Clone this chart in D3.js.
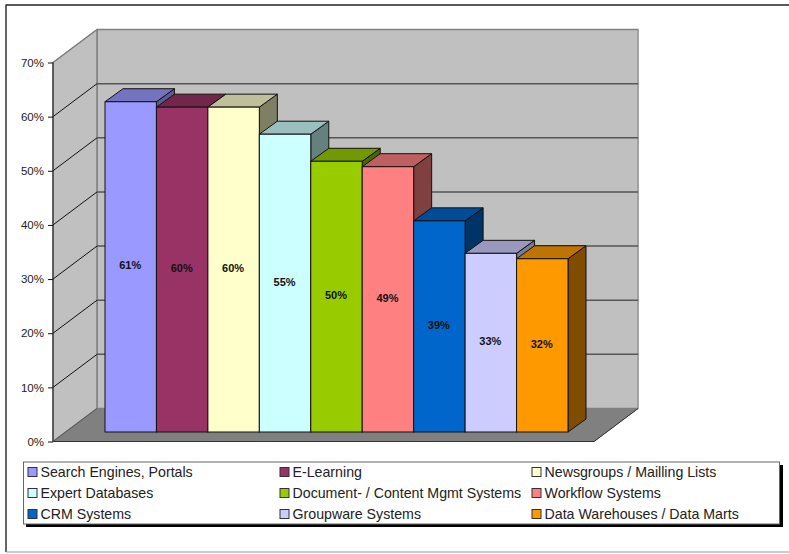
<!DOCTYPE html>
<html><head><meta charset="utf-8">
<script src="https://cdn.jsdelivr.net/npm/d3@7/dist/d3.min.js"></script>
<style>html,body{margin:0;padding:0;background:#fff}svg{display:block}text{font-family:"Liberation Sans",Arial,sans-serif}</style>
</head><body><svg id="c" width="789" height="554"></svg>
<script>
const categories=["Search Engines, Portals","E-Learning","Newsgroups / Mailling Lists","Expert Databases","Document- / Content Mgmt Systems","Workflow Systems","CRM Systems","Groupware Systems","Data Warehouses / Data Marts"];
const values=[61,60,60,55,50,49,39,33,32];
const labels=["61%","60%","60%","55%","50%","49%","39%","33%","32%"];
const colors=["#9999FF","#993366","#FFFFCC","#CCFFFF","#99CC00","#FF8080","#0066CC","#CCCCFF","#FF9900"];
const topColors=["#7373BF","#73264C","#BFBF99","#99BFBF","#739900","#BF6060","#004C99","#9999BF","#BF7300"];
const sideColors=["#5C5C99","#5C1F3D","#7F7F66","#667F7F","#4C6600","#804040","#003366","#7A7A99","#804D00"];
const ticks=[0,10,20,30,40,50,60,70];

const svg=d3.select("#c");
const y=d3.scaleLinear().domain([0,70]).range([441.5,62.5]);
const x=d3.scaleBand().domain(d3.range(values.length)).range([105,568]).padding(0);
const DX=44,DY=-33,bdx=18,bdy=-13,bar0=432;
const barH=v=>y(0)-y(v);
const poly=(pts,fill,stroke,sw)=>svg.append("polygon").attr("points",pts.map(p=>p.join(",")).join(" ")).attr("fill",fill).attr("stroke",stroke).attr("stroke-width",sw).attr("stroke-linejoin","round");
const line=(x1,y1,x2,y2,c,w)=>svg.append("line").attr("x1",x1).attr("y1",y1).attr("x2",x2).attr("y2",y2).attr("stroke",c).attr("stroke-width",w);

// frame
line(6,5,789,5,"#222",1.5);
line(6,4.5,6,552,"#333",1.5);
line(6,552,789,552,"#999",1.2);

const xL=53,xR=594,y0=y(0),y7=y(70);
// back wall, side wall, floor
poly([[xL+DX,y7+DY],[xR+DX,y7+DY],[xR+DX,y0+DY],[xL+DX,y0+DY]],"#C0C0C0","#808080",1.5);
poly([[xL,y0],[xL,y7],[xL+DX,y7+DY],[xL+DX,y0+DY]],"#C0C0C0","#808080",1.5);
poly([[xL,y0],[xR,y0],[xR+DX,y0+DY],[xL+DX,y0+DY]],"#808080","#808080",1);
line(xR+DX,y7+DY,xR+DX,y0+DY,"#A6A6A6",1.5);
line(xL,y0,xR,y0,"#333",1);
line(xR,y0,xR+DX,y0+DY,"#333",1);
// grid
ticks.forEach(t=>{
  if(t>0&&t<70) line(xL+DX,y(t)+DY,xR+DX,y(t)+DY,"#555",1.5);
  if(t>0) line(xL,y(t),xL+DX,y(t)+DY,t==70?"#808080":"#111",1);
});
line(xL,y0,xL+DX,y0+DY,"#555",1);
// axis
line(xL,y0,xL,y7,"#222",1);
const axis=d3.axisLeft(y).tickValues(ticks).tickFormat(d=>d+"%").tickSize(5).tickPadding(4);
const ga=svg.append("g").attr("transform",`translate(${xL},0)`).call(axis);
ga.select(".domain").remove();
ga.selectAll("line").attr("stroke","#111");
ga.selectAll("text").attr("font-size",11.5).attr("fill","#222");

// bars, left to right: each bar's top and front cover its left neighbour's side
values.forEach((v,i)=>{
  const l=x(i),r=l+x.bandwidth(),t=bar0-barH(v),b=bar0;
  poly([[r,t],[r+bdx,t+bdy],[r+bdx,b+bdy],[r,b]],sideColors[i],"#111",1);
  poly([[l,t],[l+bdx,t+bdy],[r+bdx,t+bdy],[r,t]],topColors[i],"#111",1);
  svg.append("rect").attr("x",l).attr("y",t).attr("width",x.bandwidth()).attr("height",b-t).attr("fill",colors[i]).attr("stroke","#111").attr("stroke-width",1);
});
values.forEach((v,i)=>{
  svg.append("text").attr("x",x(i)+x.bandwidth()/2-.5).attr("y",bar0-barH(v)/2+2.5).attr("text-anchor","middle").attr("font-size",11).attr("font-weight","bold").attr("fill","#111").text(labels[i]);
});

// legend
svg.append("rect").attr("x",26).attr("y",465).attr("width",757).attr("height",62).attr("fill","#000");
svg.append("rect").attr("x",23.5).attr("y",462).attr("width",756).attr("height",62).attr("fill","#fff").attr("stroke","#666").attr("stroke-width",1);
const colX=[27.5,279.5,531.5],rowY=[472,493,514];
categories.forEach((c,i)=>{
  const cx=colX[i%3],cy=rowY[Math.floor(i/3)];
  svg.append("rect").attr("x",cx+.5).attr("y",cy-4.5).attr("width",9).attr("height",9).attr("fill",colors[i]).attr("stroke","#333").attr("stroke-width",1);
  svg.append("text").attr("x",cx+13).attr("y",cy+5).attr("font-size",14.2).attr("fill","#222").text(c);
});
</script></body></html>
